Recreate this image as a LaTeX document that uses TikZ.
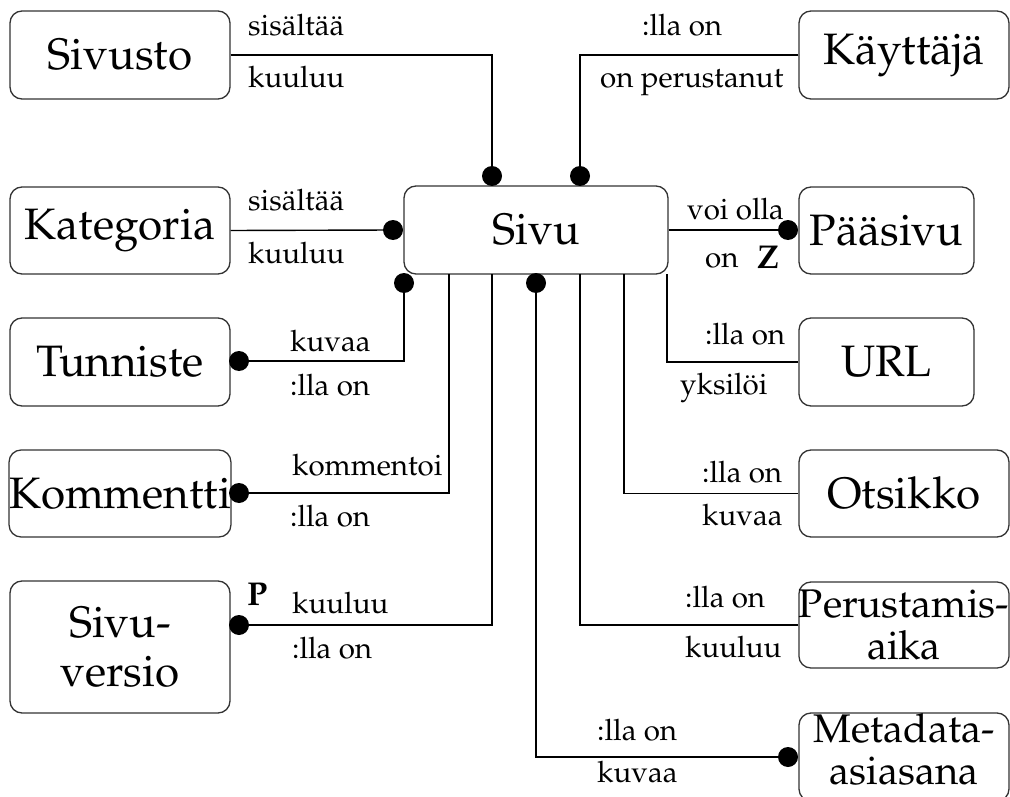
\documentclass[tikz,border=0pt]{standalone}
\usepackage[T1]{fontenc}
\usepackage{mathpazo}
\begin{document}
\begin{tikzpicture}[x=1pt,y=-1pt,
  entity/.style={draw=black!80, line width=1.3pt, rounded corners=12pt, inner sep=0pt,
    align=center, font=\fontsize{44}{49}\selectfont},
  smallent/.style={entity, font=\fontsize{40}{42}\selectfont},
  conn/.style={draw=black, line width=1.4pt},
  blob/.style={circle, fill=black, minimum size=20pt, inner sep=0pt},
  rel/.style={anchor=base west, inner sep=0pt, font=\fontsize{29.5}{32}\selectfont},
  cardmark/.style={anchor=base west, inner sep=0pt, font=\fontsize{33}{36}\selectfont\bfseries}
]
\useasboundingbox (0,0) rectangle (1010,797);
\fill[white] (0,0) rectangle (1010,797);

% entities
\node[entity, minimum width=220pt, minimum height=88pt] (sivusto) at (120,55) {Sivusto};
\node[entity, minimum width=220pt, minimum height=87pt] (kategoria) at (120,230.5) {Kategoria};
\node[entity, minimum width=220pt, minimum height=88pt] (tunniste) at (120,362) {Tunniste};
\node[entity, minimum width=220pt, minimum height=87pt] (kommentti) at (120,493.5) {Kommentti};
\node[entity, minimum width=220pt, minimum height=132pt] (sivuversio) at (120,647) {Sivu-\\versio};
\node[entity, minimum width=264pt, minimum height=88pt] (sivu) at (536,230) {Sivu};
\node[entity, minimum width=210pt, minimum height=88pt] (kayttaja) at (904,55) {Käyttäjä};
\node[entity, minimum width=175pt, minimum height=87pt] (paasivu) at (886.5,230.5) {Pääsivu};
\node[entity, minimum width=175pt, minimum height=88pt] (url) at (886.5,362) {URL};
\node[entity, minimum width=210pt, minimum height=87pt] (otsikko) at (904,493.5) {Otsikko};
\node[smallent, minimum width=210pt, minimum height=86pt] (perustamis) at (904,625) {Perustamis-\\aika};
\node[smallent, minimum width=210pt, minimum height=88pt, text depth=16pt] (metadata) at (904,757) {Metadata-\\asiasana};

% dots
\node[blob] (dS) at (492,176) {};
\node[blob] (dK) at (580,176) {};
\node[blob] (dKat) at (393,230) {};
\node[blob] (dP) at (788,230) {};
\node[blob] (dT1) at (239,361) {};
\node[blob] (dT2) at (404,283) {};
\node[blob] (dKo) at (239,493) {};
\node[blob] (dV) at (239,625) {};
\node[blob] (dM) at (536,283) {};
\node[blob] (dMe) at (788,757) {};

% attach points on Sivu bottom
\coordinate (sK) at (449,274);
\coordinate (sV) at (492,274);
\coordinate (sPe) at (580,274);
\coordinate (sO) at (624,274);
\coordinate (sU) at (667,274);

% connectors
\draw[conn] (sivusto.east) -| (dS);
\draw[conn] (kayttaja.west) -| (dK);
\draw[conn] (kategoria.east) -- (dKat);
\draw[conn] (sivu.east) -- (dP);
\draw[conn] (dT1) -| (dT2);
\draw[conn] (sK) |- (dKo);
\draw[conn] (sV) |- (dV);
\draw[conn] (dM) |- (dMe);
\draw[conn] (sPe) |- (perustamis.west);
\draw[conn] (sO) |- (otsikko.west);
\draw[conn] (sU) |- (url.west);

% labels
\node[rel] (l1a) at (248,36) {sisältää};
\node[rel] (l1b) at (248,88) {kuuluu};
\node[rel] (l2a) at (248,211) {sisältää};
\node[rel] (l2b) at (248,263) {kuuluu};
\node[rel] (l3a) at (642,36) {:lla on};
\node[rel] (l3b) at (600,88) {on perustanut};
\node[rel] (l4a) at (687,219) {voi olla};
\node[rel] (l4b) at (705,267) {on};
\node[cardmark] (l4c) at (757,268) {Z};
\node[rel] (l5a) at (290,351) {kuvaa};
\node[rel] (l5b) at (290,395) {:lla on};
\node[rel] (l6a) at (292,475) {kommentoi};
\node[rel] (l6b) at (290,526) {:lla on};
\node[rel] (l7a) at (705,344) {:lla on};
\node[rel] (l7b) at (680,394) {yksilöi};
\node[rel] (l8a) at (702,482) {:lla on};
\node[rel] (l8b) at (702,525) {kuvaa};
\node[cardmark] (l9c) at (247,605) {P};
\node[rel] (l9a) at (292,613) {kuuluu};
\node[rel] (l9b) at (292,658) {:lla on};
\node[rel] (l10a) at (685,607) {:lla on};
\node[rel] (l10b) at (685,657) {kuuluu};
\node[rel] (l11a) at (597,740) {:lla on};
\node[rel] (l11b) at (597,782) {kuvaa};
\end{tikzpicture}
\end{document}
